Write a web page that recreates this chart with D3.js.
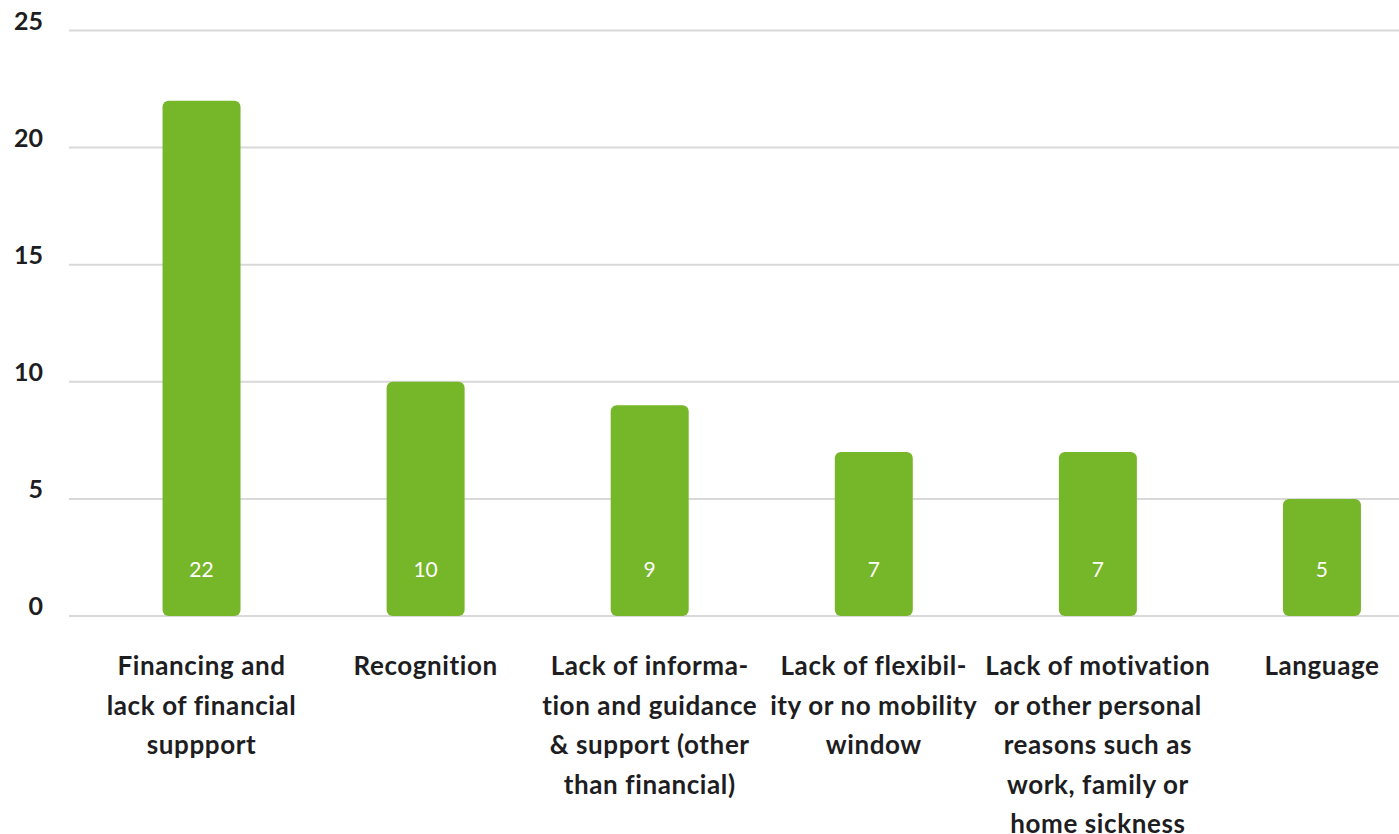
<!DOCTYPE html>
<html>
<head>
<meta charset="utf-8">
<script src="https://cdn.jsdelivr.net/npm/d3@7"></script>
<style>
  body { margin: 0; background: #fff; }
  svg text { font-family: Lato, "Open Sans", sans-serif; }
</style>
</head>
<body>
<div id="chart"></div>
<script>
const categories = [
    ["Financing and", "lack of financial", "suppport"],
    ["Recognition"],
    ["Lack of informa-", "tion and guidance", "& support (other", "than financial)"],
    ["Lack of flexibil-", "ity or no mobility", "window"],
    ["Lack of motivation", "or other personal", "reasons such as", "work, family or", "home sickness"],
    ["Language"]
];
const values = [22, 10, 9, 7, 7, 5];
const yTicks = [0, 5, 10, 15, 20, 25];

const width = 1399, height = 834;
const barColor = "#76b72a";
const textColor = "#1d1d22";

const svg = d3.select("#chart")
    .append("svg")
    .attr("width", width)
    .attr("height", height);

const y = d3.scaleLinear().domain([0, 25]).range([616, 30.5]);

const x = d3.scaleBand()
    .domain(d3.range(values.length))
    .range([89.5, 1434])
    .paddingInner(0.652)
    .paddingOuter(0.326);

// gridlines
svg.append("g")
    .selectAll("line")
    .data(yTicks)
    .join("line")
    .attr("x1", 69)
    .attr("x2", width)
    .attr("y1", d => y(d))
    .attr("y2", d => y(d))
    .style("stroke", "#d9d9d9")
    .style("stroke-width", 2);

// y tick labels
svg.append("g")
    .selectAll("text")
    .data(yTicks)
    .join("text")
    .attr("x", 43)
    .attr("y", d => y(d) - 1)
    .attr("text-anchor", "end")
    .style("font-size", "25px")
    .style("font-weight", "bold")
    .style("fill", textColor)
    .text(d => d);

// bars
svg.append("g")
    .selectAll("rect")
    .data(values)
    .join("rect")
    .attr("x", (d, i) => x(i))
    .attr("y", d => y(d))
    .attr("width", x.bandwidth())
    .attr("height", d => y(0) - y(d))
    .attr("rx", 6)
    .style("fill", barColor);

// value labels
svg.append("g")
    .selectAll("text")
    .data(values)
    .join("text")
    .attr("x", (d, i) => x(i) + x.bandwidth() / 2)
    .attr("y", 577)
    .attr("text-anchor", "middle")
    .style("font-size", "21px")
    .style("fill", "#fff")
    .text(d => d);

// category labels
const cat = svg.append("g")
    .selectAll("text")
    .data(categories)
    .join("text")
    .attr("text-anchor", "middle")
    .style("font-size", "26px")
    .style("letter-spacing", "0.6px")
    .style("font-weight", "bold")
    .style("fill", textColor);

cat.selectAll("tspan")
    .data((d, i) => d.map(line => ({ line, i })))
    .join("tspan")
    .attr("x", d => x(d.i) + x.bandwidth() / 2)
    .attr("y", (d, j) => 675 + j * 39.5)
    .text(d => d.line);
</script>
</body>
</html>
